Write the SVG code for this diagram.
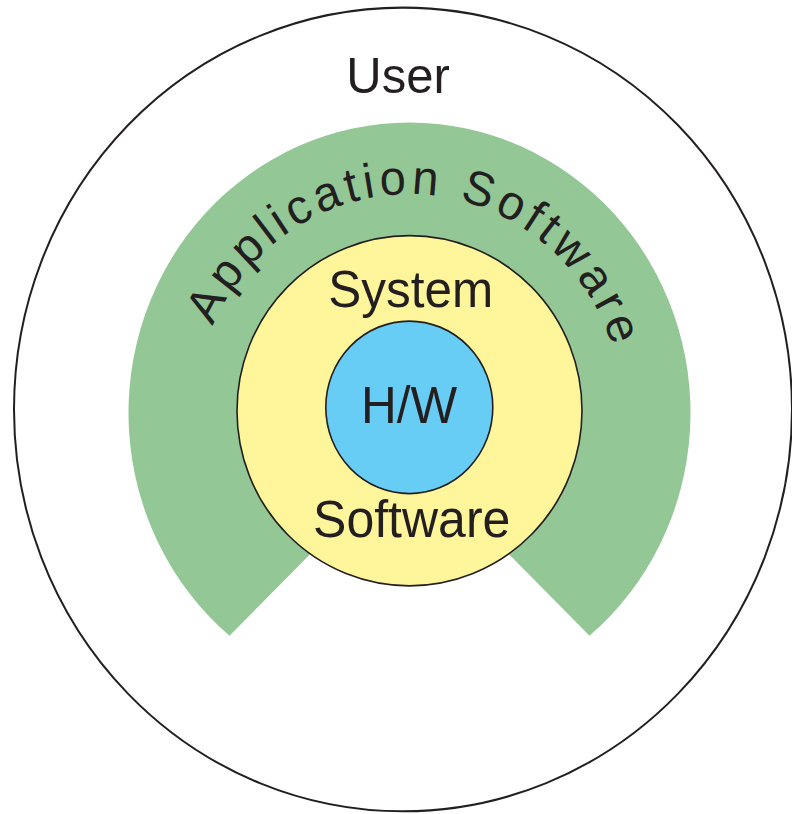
<svg xmlns="http://www.w3.org/2000/svg" width="792" height="814" viewBox="0 0 792 814">
  <style>
    .label { font-family: "Liberation Sans", Arial, Helvetica, sans-serif; fill: #231f20; text-anchor: middle; }
    .ring { stroke: #231f20; stroke-width: 1.6; }
  </style>
  <defs>
    <!-- baseline arc for the curved layer title -->
    <path id="appArc" d="M 213 316 A 214 214 0 0 1 619.75 364.84"/>
  </defs>
  <rect x="0" y="0" width="792" height="814" fill="#ffffff"/>
  <!-- whole drawing is slightly taller than wide -->
  <g transform="matrix(1 0 0 1.033 0 0)">
    <g id="user">
      <circle cx="403" cy="396.4" r="389" fill="#ffffff" stroke="#231f20" stroke-width="2"/>
      <text class="label" x="398" y="90.3" font-size="49">User</text>
    </g>
    <g id="application-software">
      <path d="M 229.5 615.4 A 281 281 0 1 1 589.5 615.4 L 409.5 439 Z" fill="#93c796"/>
      <text font-family="&quot;Liberation Sans&quot;, Arial, Helvetica, sans-serif" font-size="47" fill="#231f20" letter-spacing="4.6">
        <textPath href="#appArc" startOffset="0">Application Software</textPath>
      </text>
    </g>
    <g id="system-software">
      <ellipse class="ring" cx="409.5" cy="397.6" rx="172.5" ry="169.5" fill="#fff59a"/>
      <text class="label" x="410.8" y="296.9" font-size="49.5">System</text>
      <text class="label" x="411.7" y="519.5" font-size="50">Software</text>
    </g>
    <g id="hardware">
      <circle class="ring" cx="409.3" cy="394.3" r="83.5" fill="#68cdf4"/>
      <text class="label" x="409" y="409.2" font-size="49.5">H/W</text>
    </g>
  </g>
</svg>
